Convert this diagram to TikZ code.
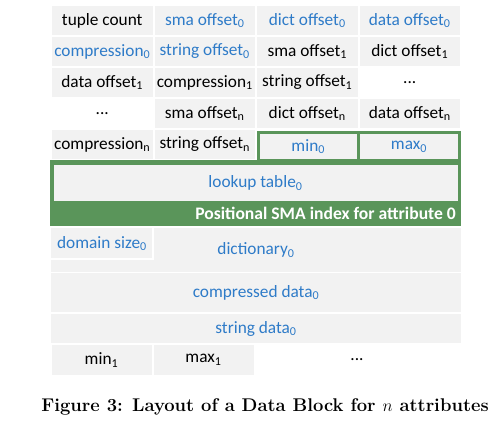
\documentclass[tikz,border=0pt]{standalone}
\usepackage{fontspec}
\setmainfont{Carlito}
\newfontfamily\lmfont{Latin Modern Roman}
\definecolor{cellgray}{HTML}{F2F2F2}
\definecolor{sgreen}{HTML}{5A955A}
\definecolor{tblue}{HTML}{2E7BC8}
\newcommand{\sbx}[1]{\textsubscript{#1}}
\begin{document}
\begin{tikzpicture}[x=1pt,y=-1pt,
  txt/.style={font=\fontsize{17.3}{20}\selectfont, inner sep=0pt},
  cell/.style={txt, rectangle, fill=cellgray, minimum width=100.5pt, minimum height=29pt},
  plain/.style={txt, minimum width=100.5pt, minimum height=29pt},
  bl/.style={text=tblue},
  gbox/.style={txt, rectangle, fill=cellgray, draw=sgreen, line width=3pt, minimum height=28.5pt, outer sep=0pt},
  wide/.style={txt, rectangle, fill=cellgray, minimum width=410pt}
  ]
\useasboundingbox (0,0) rectangle (491,425);
% row 1
\node[cell]    (r1c1) at (102.25,20.5) {tuple count};
\node[cell,bl] (r1c2) at (204.75,20.5) {sma offset\sbx{0}};
\node[cell,bl] (r1c3) at (307.25,20.5) {dict offset\sbx{0}};
\node[cell,bl] (r1c4) at (409.75,20.5) {data offset\sbx{0}};
% row 2
\node[cell,bl] (r2c1) at (102.25,51.5) {compression\sbx{0}};
\node[cell,bl] (r2c2) at (204.75,51.5) {string offset\sbx{0}};
\node[cell]    (r2c3) at (307.25,51.5) {sma offset\sbx{1}};
\node[cell]    (r2c4) at (409.75,51.5) {dict offset\sbx{1}};
% row 3
\node[cell]    (r3c1) at (102.25,82.5) {data offset\sbx{1}};
\node[cell]    (r3c2) at (204.75,82.5) {compression\sbx{1}};
\node[cell]    (r3c3) at (307.25,82.5) {string offset\sbx{1}};
\node[plain]   (r3c4) at (409.75,82.5) {...};
% row 4
\node[plain]   (r4c1) at (102.25,113.5) {...};
\node[cell]    (r4c2) at (204.75,113.5) {sma offset\sbx{n}};
\node[cell]    (r4c3) at (307.25,113.5) {dict offset\sbx{n}};
\node[cell]    (r4c4) at (409.75,113.5) {data offset\sbx{n}};
% row 5
\node[cell]    (r5c1) at (102.25,144.5) {compression\sbx{n}};
\node[cell]    (r5c2) at (204.75,144.5) {string offset\sbx{n}};
% SMA index
\node[rectangle, fill=sgreen, minimum width=411pt, minimum height=66pt, inner sep=0pt] (sma) at (255.5,193) {};
\node[gbox,bl, minimum width=100.5pt] (min0) at (308.25,146.75) {min\sbx{0}};
\node[gbox,bl, minimum width=101pt] (max0) at (409,146.75) {max\sbx{0}};
\node[txt, rectangle, fill=cellgray, minimum width=404pt, minimum height=36pt] (lookup) at (255.5,183) {};
\node[txt,bl] (lookuplbl) at (lookup.center) {lookup table\sbx{0}};
\node[txt, anchor=east, text=white, font=\fontsize{17.6}{20}\selectfont\bfseries] (band) at (456,213.5) {Positional SMA index for attribute 0};
% dictionary
\node[wide, minimum height=44pt, bl] (dict) at (256,250) {dictionary\sbx{0}};
\node[txt, rectangle, fill=cellgray, minimum width=102pt, minimum height=31pt, bl] (dom) at (102,243.5) {domain size\sbx{0}};
\draw[white, line width=2pt] (dom.north east) -- (dom.south east) -- (dom.south west);
% data
\node[wide, minimum height=39pt, bl] (comp) at (256,292.5) {compressed data\sbx{0}};
\node[wide, minimum height=29pt, bl] (str) at (256,328.5) {string data\sbx{0}};
% last row
\node[txt, rectangle, fill=cellgray, minimum width=100pt, minimum height=30pt] (min1) at (101.5,360) {min\sbx{1}};
\node[txt, rectangle, fill=cellgray, minimum width=100pt, minimum height=30pt] (max1) at (203.5,360) {max\sbx{1}};
\node[txt] (rest) at (357,360) {...};
% caption
\node[font=\lmfont\bfseries\fontsize{18.4}{21}\selectfont, inner sep=0pt] (cap) at (265,407) {Figure 3: Layout of a Data Block for $n$ attributes};
\end{tikzpicture}
\end{document}
